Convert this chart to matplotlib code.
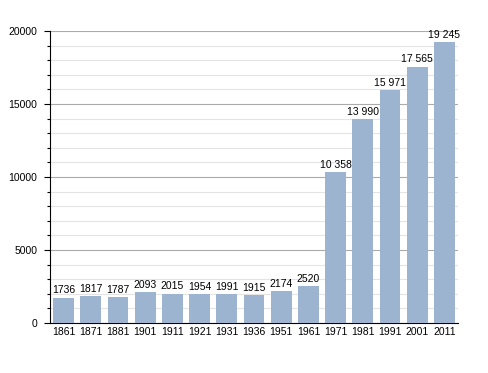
import matplotlib.pyplot as plt
import numpy as np

plt.rcParams['font.family'] = ['Liberation Sans', 'DejaVu Sans']

years = ['1861', '1871', '1881', '1901', '1911', '1921', '1931', '1936',
         '1951', '1961', '1971', '1981', '1991', '2001', '2011']
population = [1736, 1817, 1787, 2093, 2015, 1954, 1991, 1915,
              2174, 2520, 10358, 13990, 15971, 17565, 19245]
y_ticks = [0, 5000, 10000, 15000, 20000]


def fmt(v):
    # values above 9999 get a space as thousands separator
    if v >= 10000:
        return '{:,}'.format(v).replace(',', ' ')
    return str(v)


fig = plt.figure(figsize=(4.88, 3.73), dpi=100)
ax = fig.add_axes([50 / 488, 1 - 323 / 373, 408 / 488, 292 / 373])

x = np.arange(len(years))
ax.bar(x, population, width=0.77, color='#9cb4d0', zorder=3)
for xi, v in zip(x, population):
    ax.text(xi, v + 150, fmt(v), ha='center', va='bottom', fontsize=7.5, color='black', zorder=4)

ax.set_xlim(-0.5, len(years) - 0.5)
ax.set_ylim(0, 20000)
ax.set_xticks(x)
ax.set_xticklabels(years, fontsize=7.5)
ax.set_yticks(y_ticks)
ax.set_yticklabels([str(t) for t in y_ticks], fontsize=7.5)
ax.set_yticks(np.arange(0, 20001, 1000), minor=True)

ax.grid(axis='y', which='major', color='#aaaaaa', linewidth=0.8, zorder=0)
ax.grid(axis='y', which='minor', color='#e4e4e4', linewidth=0.8, zorder=0)

ax.tick_params(axis='x', length=0, pad=3)
ax.tick_params(axis='y', which='major', length=4, width=0.8, pad=5)
ax.tick_params(axis='y', which='minor', length=2, width=0.8)
ax.spines['top'].set_visible(False)
ax.spines['right'].set_visible(False)
ax.spines['left'].set_linewidth(0.8)
ax.spines['bottom'].set_linewidth(0.8)

plt.savefig('out.png', dpi=100)
